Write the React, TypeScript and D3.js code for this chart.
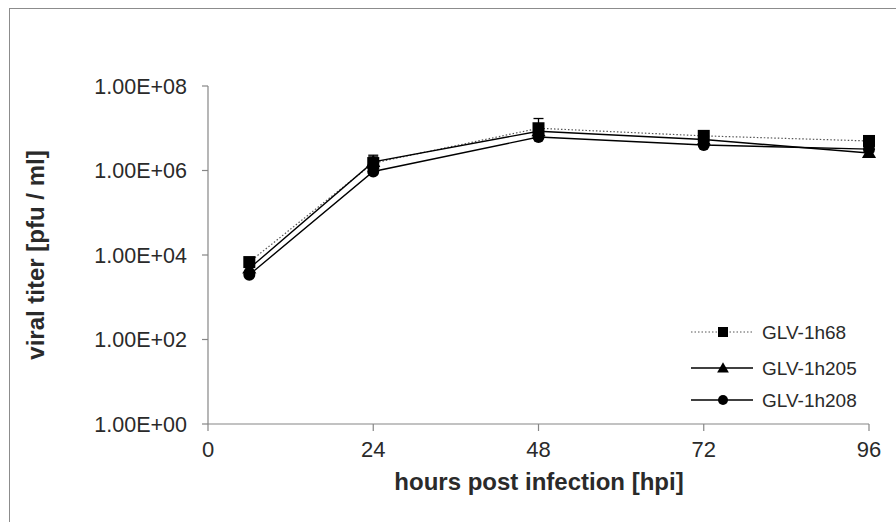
import * as d3 from 'd3';

type Series = {
  name: string;
  values: number[];
  errors: number[];
  marker: 'square' | 'triangle' | 'circle';
  dotted: boolean;
};

const hours = [6, 24, 48, 72, 96];
const xTicks = [0, 24, 48, 72, 96];
const yTicks = [1, 1e2, 1e4, 1e6, 1e8];

const h68 = [6.8e3, 1.5e6, 1.0e7, 6.6e6, 5.0e6];
const h68Err = [1.2e3, 8e5, 7e6, 1.2e6, 8e5];
const h205 = [4.8e3, 1.6e6, 8.5e6, 5.4e6, 2.6e6];
const h205Err = [8e2, 5e5, 2e6, 9e5, 4e5];
const h208 = [3.4e3, 9.5e5, 6.2e6, 4.0e6, 3.2e6];
const h208Err = [6e2, 2e5, 1.5e6, 6e5, 4e5];

const series: Series[] = [
  { name: 'GLV-1h68', values: h68, errors: h68Err, marker: 'square', dotted: true },
  { name: 'GLV-1h205', values: h205, errors: h205Err, marker: 'triangle', dotted: false },
  { name: 'GLV-1h208', values: h208, errors: h208Err, marker: 'circle', dotted: false },
];

const W = 896;
const H = 522;
const axisColor = '#868686';
const textColor = '#2a2a2a';
const font = '"Liberation Sans", Arial, sans-serif';

// excel style 1.00E+08
const sci = (t: number) => {
  const exp = Math.round(Math.log10(t));
  return `1.00E+${String(exp).padStart(2, '0')}`;
};

function Marker({ kind, x, y, size }: { kind: Series['marker']; x: number; y: number; size: number }) {
  if (kind === 'square') {
    return <rect x={x - size / 2} y={y - size / 2} width={size} height={size} fill="#000" />;
  }
  if (kind === 'circle') {
    return <circle cx={x} cy={y} r={size / 2} fill="#000" />;
  }
  const sym = d3.symbol().type(d3.symbolTriangle).size(size * size * 0.6)();
  return <path d={sym ?? ''} transform={`translate(${x},${y + 1})`} fill="#000" />;
}

export default function App() {
  const x = d3.scaleLinear().domain([0, 96]).range([208, 869]);
  const y = d3.scaleLog().domain([1, 1e8]).range([424, 86]);

  const line = d3
    .line<number>()
    .x((_, i) => x(hours[i]))
    .y((d) => y(d));

  const legendRows = [332, 368, 400];

  return (
    <div style={{ position: 'fixed', left: 0, top: 0 }}>
      <svg width={W} height={H} style={{ display: 'block', fontFamily: font }}>
        <rect x={0} y={0} width={W} height={H} fill="#fff" />
        <rect x={9.5} y={8.5} width={W} height={H} fill="#fff" stroke="#8c8c8c" strokeWidth={1} />

        {/* axes */}
        <line x1={x(0)} x2={x(0)} y1={y(1e8)} y2={y(1)} stroke={axisColor} strokeWidth={1.2} />
        <line x1={x(0)} x2={x(96)} y1={y(1)} y2={y(1)} stroke={axisColor} strokeWidth={1.2} />
        {yTicks.map((t) => (
          <g key={t}>
            <line x1={x(0) - 6} x2={x(0)} y1={y(t)} y2={y(t)} stroke={axisColor} strokeWidth={1.2} />
            <text x={187} y={y(t)} dy="0.36em" textAnchor="end" fontSize={21.5} fill={textColor}>
              {sci(t)}
            </text>
          </g>
        ))}
        {xTicks.map((t) => (
          <g key={t}>
            <line x1={x(t)} x2={x(t)} y1={y(1)} y2={y(1) + 7} stroke={axisColor} strokeWidth={1.2} />
            <text x={x(t)} y={449} dy="0.36em" textAnchor="middle" fontSize={22} fill={textColor}>
              {t}
            </text>
          </g>
        ))}

        <text
          x={539}
          y={481}
          dy="0.36em"
          textAnchor="middle"
          fontSize={24}
          fontWeight="bold"
          fill={textColor}
        >
          hours post infection [hpi]
        </text>
        <text
          transform={`translate(35,255) rotate(-90)`}
          dy="0.36em"
          textAnchor="middle"
          fontSize={24}
          fontWeight="bold"
          fill={textColor}
        >
          viral titer [pfu / ml]
        </text>

        {/* series */}
        {series.map((s) => (
          <g key={s.name}>
            <path
              d={line(s.values) ?? ''}
              fill="none"
              stroke={s.dotted ? '#555' : '#000'}
              strokeWidth={s.dotted ? 1.2 : 1.4}
              strokeDasharray={s.dotted ? '1.5 2' : undefined}
            />
            {s.values.map((v, i) => (
              <g key={i}>
                <line
                  x1={x(hours[i])}
                  x2={x(hours[i])}
                  y1={y(v)}
                  y2={y(v + s.errors[i])}
                  stroke="#000"
                  strokeWidth={1.3}
                />
                <line
                  x1={x(hours[i]) - 5}
                  x2={x(hours[i]) + 5}
                  y1={y(v + s.errors[i])}
                  y2={y(v + s.errors[i])}
                  stroke="#000"
                  strokeWidth={1.3}
                />
              </g>
            ))}
          </g>
        ))}
        {series.map((s) => (
          <g key={s.name + '-m'}>
            {s.values.map((v, i) => (
              <Marker key={i} kind={s.marker} x={x(hours[i])} y={y(v)} size={12} />
            ))}
          </g>
        ))}

        {/* legend */}
        {series.map((s, i) => (
          <g key={s.name + '-l'}>
            <line
              x1={691}
              x2={753}
              y1={legendRows[i]}
              y2={legendRows[i]}
              stroke={s.dotted ? '#555' : '#000'}
              strokeWidth={s.dotted ? 1 : 1.4}
              strokeDasharray={s.dotted ? '1.5 2' : undefined}
            />
            <Marker kind={s.marker} x={723} y={legendRows[i]} size={10} />
            <text x={762} y={legendRows[i]} dy="0.36em" fontSize={19} fill={textColor}>
              {s.name}
            </text>
          </g>
        ))}
      </svg>
    </div>
  );
}
